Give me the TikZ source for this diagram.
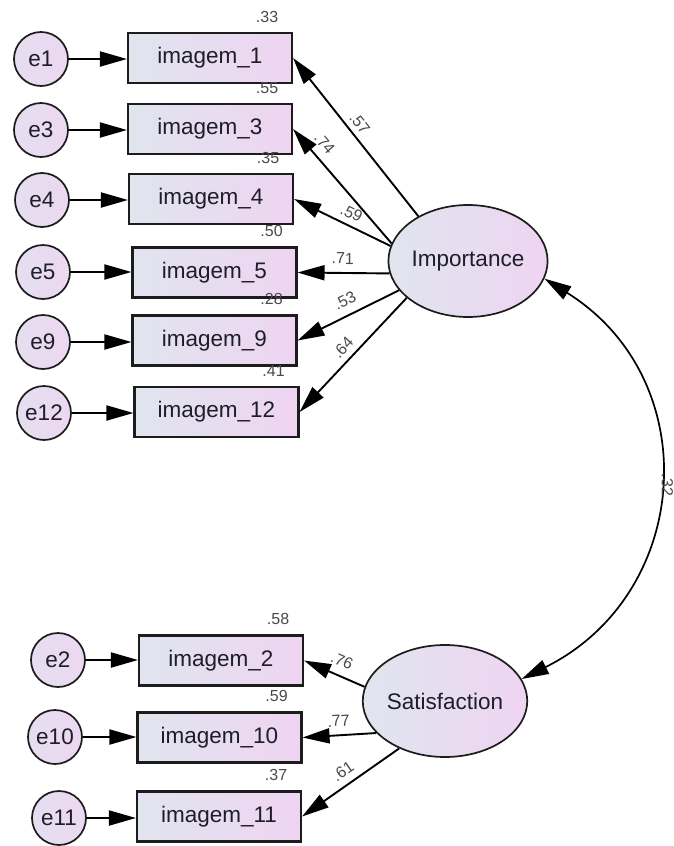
\documentclass[tikz,border=0pt]{standalone}
\usepackage{fontspec}
\setmainfont{Liberation Sans}
\usetikzlibrary{arrows.meta,shapes.geometric}
\definecolor{lblc}{HTML}{4A4A4A}
\definecolor{fillL}{HTML}{E0E5EE}
\definecolor{fillR}{HTML}{EFD4F2}
\definecolor{edgec}{HTML}{1C1C1C}
\definecolor{txtc}{HTML}{1E1E28}
\begin{document}
\begin{tikzpicture}[x=1pt,y=1pt,
  obs/.style={draw=edgec, line width=2.1pt, left color=fillL, right color=fillR,
    minimum width=164pt, minimum height=50pt, inner sep=0pt, text=txtc,
    font=\fontsize{22.5}{26}\selectfont},
  err/.style={circle, draw=edgec, line width=1.7pt, left color=fillL!60!fillR, right color=fillR!80!fillL,
    minimum size=54pt, inner sep=0pt, text=txtc, font=\fontsize{22.5}{26}\selectfont},
  lat/.style={ellipse, draw=edgec, line width=1.7pt, left color=fillL, right color=fillR,
    minimum width=154pt, minimum height=112pt, inner sep=0pt, text=txtc,
    font=\fontsize{22.5}{26}\selectfont},
  conn/.style={line width=1.9pt, draw=black, -{Triangle[length=27pt,width=15pt]}},
  cov/.style={line width=1.7pt, draw=black, {Triangle[length=27pt,width=15pt]}-{Triangle[length=27pt,width=15pt]}},
  coef/.style={font=\fontsize{16}{18}\selectfont, text=lblc, inner sep=1pt},
]
\useasboundingbox (0,0) rectangle (674,-846);
\fill[white] (0,0) rectangle (674,-846);

% observed variables
\node[obs] (i1)  at (210,-58)    {imagem\_1};
\node[obs] (i3)  at (210,-129)   {imagem\_3};
\node[obs] (i4)  at (211,-199)   {imagem\_4};
\node[obs] (i5)  at (214.5,-272.5) {imagem\_5};
\node[obs] (i9)  at (214.5,-340.5) {imagem\_9};
\node[obs] (i12) at (216.5,-412) {imagem\_12};
\node[obs] (i2)  at (221,-660.5) {imagem\_2};
\node[obs] (i10) at (219.5,-737.5) {imagem\_10};
\node[obs] (i11) at (219,-816.5) {imagem\_11};

% errors
\node[err] (e1)  at (41,-59)  {e1};
\node[err] (e3)  at (41,-130) {e3};
\node[err] (e4)  at (42,-200) {e4};
\node[err] (e5)  at (43,-272) {e5};
\node[err] (e9)  at (43,-342) {e9};
\node[err] (e12) at (44,-413) {e12};
\node[err] (e2)  at (58,-660) {e2};
\node[err] (e10) at (55,-737) {e10};
\node[err] (e11) at (59,-818) {e11};

% latent variables
\node[lat] (imp) at (468,-261) {Importance};
\node[lat] (sat) at (445,-701) {Satisfaction};

% error arrows
\foreach \e/\i in {e1/i1,e3/i3,e4/i4,e5/i5,e9/i9,e12/i12,e2/i2,e10/i10,e11/i11}
  \draw[conn] (\e) -- (\e -| \i.west);

% loadings
\draw[conn] (imp.138) -- (i1.east) node[coef, pos=0.54, sloped, above=4pt] {.57};
\draw[conn] (imp.167) -- (i3.east) node[coef, pos=0.79, sloped, above=7pt] {.74};
\draw[conn] (imp.169) -- (i4.east) node[coef, pos=0.46, sloped, above=5pt] {.59};
\draw[conn] (imp.189) -- (i5.east) node[coef, pos=0.51, sloped, above=7pt] {.71};
\draw[conn] (imp.203) -- (i9.east) node[coef, pos=0.47, sloped, above=7pt] {.53};
\draw[conn] (imp.211) -- (i12.east) node[coef, pos=0.51, sloped, above=5pt] {.64};
\draw[conn] (sat.170) -- (i2.east) node[coef, pos=0.47, sloped, above=7pt] {.76};
\draw[conn] (sat.205) -- (i10.east) node[coef, pos=0.5, sloped, above=7pt] {.77};
\draw[conn] (sat.226) -- (i11.east) node[coef, pos=0.5, sloped, above=6pt] {.61};

% squared multiple correlations
\foreach \i/\v in {i1/.33,i3/.55,i4/.35,i5/.50,i9/.28,i12/.41,i2/.58,i10/.59,i11/.37}
  \node[coef] at ([shift={(-26,15)}]\i.north east) {\v};

% covariance
\draw[cov] (imp.-13) .. controls +(-32:191) and +(26.5:191) .. (sat.16)
  node[coef, pos=0.5, anchor=south, rotate=-90, inner sep=3pt] {.32};
\end{tikzpicture}
\end{document}
